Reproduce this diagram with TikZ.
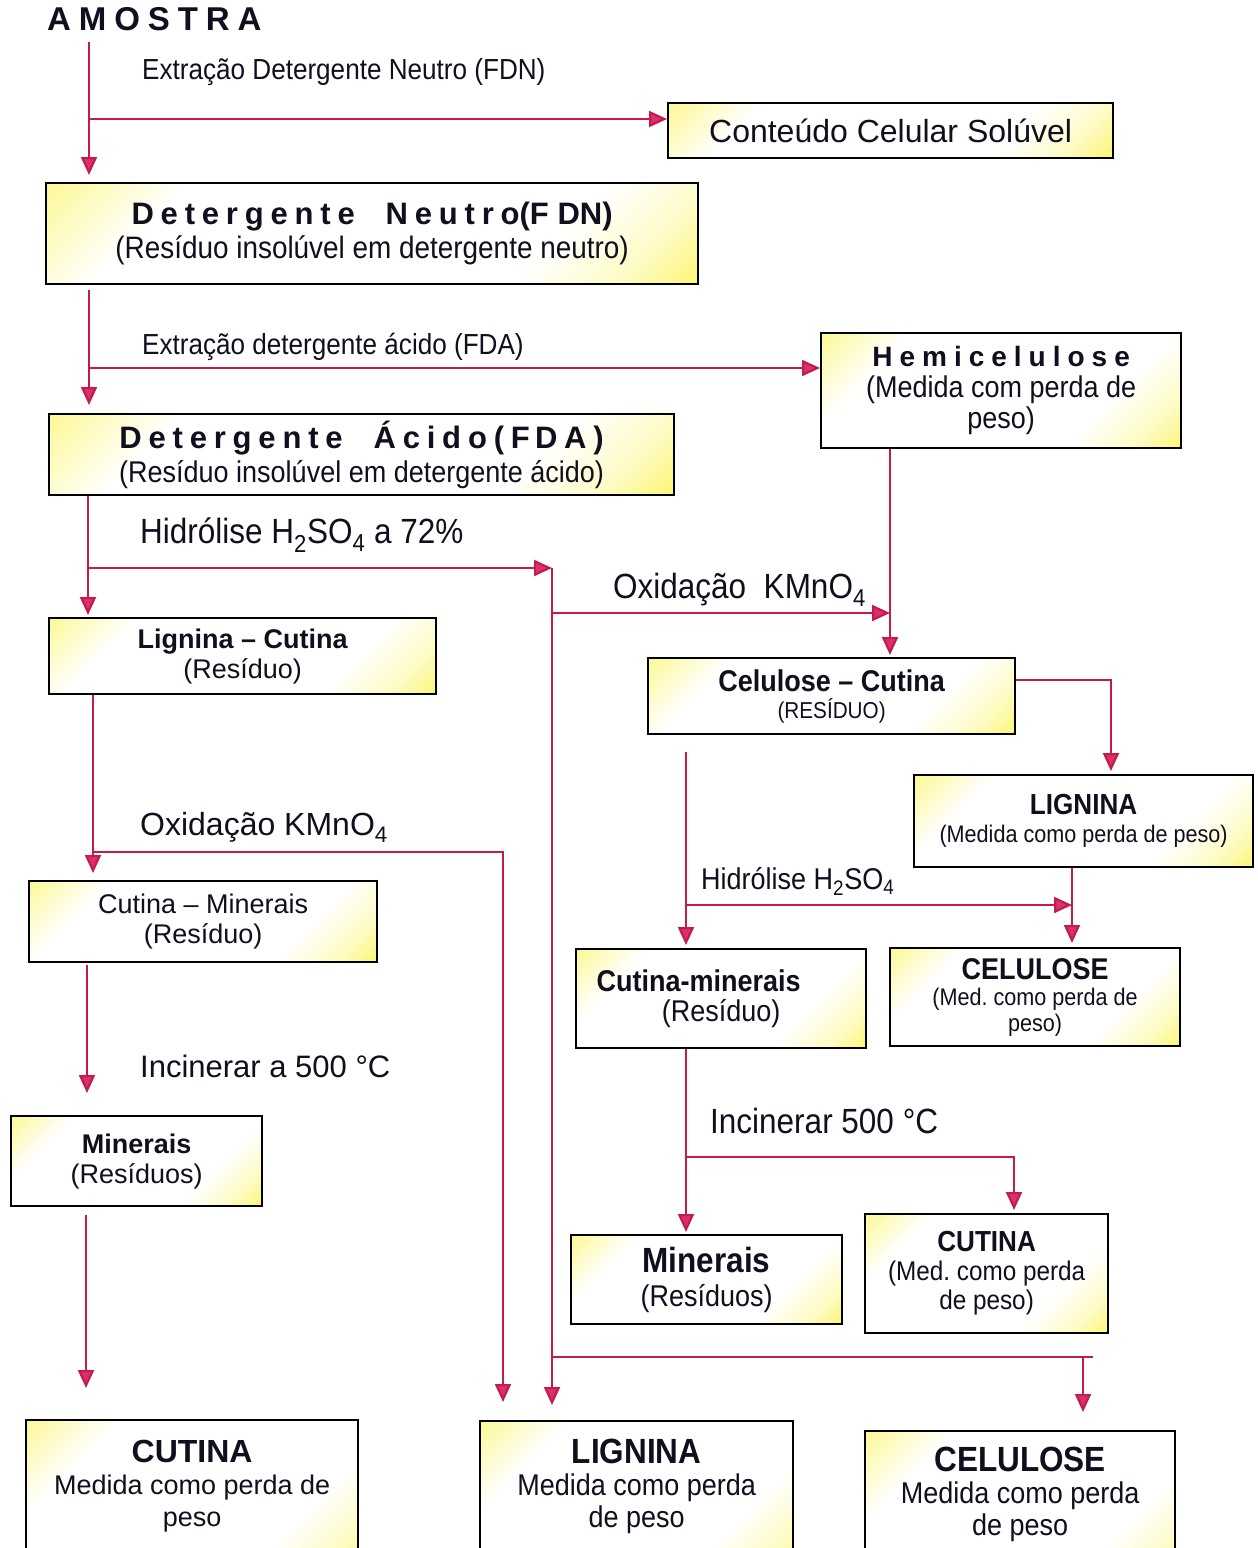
\documentclass[tikz,border=0pt]{standalone}
\usepackage{fontspec}
\setmainfont{Liberation Sans}
\newfontfamily\nar[FakeStretch=0.9]{Liberation Sans}
\usetikzlibrary{arrows.meta,calc}
\definecolor{ln}{RGB}{196,28,72}
\definecolor{ah}{RGB}{218,48,108}
\definecolor{yl}{RGB}{250,240,20}
\definecolor{tx}{RGB}{15,15,30}
\pgfdeclareverticalshading{ybox}{100bp}{color(0bp)=(yl); color(10bp)=(yl!80!white); color(22bp)=(yl!25!white); color(32bp)=(white); color(72bp)=(white); color(84bp)=(yl!40!white); color(100bp)=(yl)}
\newcommand\fz[2]{\fontsize{#1pt}{#2pt}\selectfont}
\newcommand\lsp[1]{\addfontfeatures{LetterSpace=#1}}
\tikzset{
 box/.style={draw=black, line width=2.2pt, shade, shading=ybox, shading angle=45, align=center, inner sep=0pt, text=tx, anchor=north west},
 conn/.style={draw=ln, line width=2.2pt},
 arr/.style={conn, -{Triangle[length=18pt,width=16pt,fill=ah]}},
 lab/.style={anchor=west, inner sep=0pt, text=tx},
}
\frenchspacing
\begin{document}
\begin{tikzpicture}[x=1pt,y=-1pt]
\useasboundingbox (0,0) rectangle (1258,1548);
% ---------- labels ----------
\node[lab, font={\fz{33}{38}\bfseries\lsp{24}}] (amostra) at (47,19) {AMOSTRA};
\node[lab, font={\nar\fz{29}{33}}] (l1) at (142,72) {Extração Detergente Neutro (FDN)};
\node[lab, font={\nar\fz{29}{33}}] (l2) at (142,347) {Extração detergente ácido (FDA)};
\node[lab, font={\nar\fz{35}{40}}] (l3) at (140,535) {Hidrólise H\textsubscript{2}SO\textsubscript{4} a 72\%};
\node[lab, font={\nar\fz{35}{40}}] (l4) at (613,590) {Oxidação\ \ KMnO\textsubscript{4}};
\node[lab, font={\fz{32}{36}}] (l5) at (140,827) {Oxidação KMnO\textsubscript{4}};
\node[lab, font={\nar\fz{30}{34}}] (l6) at (701,881) {Hidrólise H\textsubscript{2}SO\textsubscript{4}};
\node[lab, font={\fz{31}{35}}] (l7) at (140,1066) {Incinerar a 500 °C};
\node[lab, font={\nar\fz{35}{40}}] (l8) at (710,1121) {Incinerar 500 °C};
% ---------- boxes ----------
\node[box, minimum width=445pt, minimum height=55pt, font=\fz{32}{36}] (ccs) at (667,102) {Conteúdo Celular Solúvel};
\node[box, minimum width=652pt, minimum height=101pt, font=\fz{31}{34}] (fdn) at (45,182)
 {{\bfseries\lsp{22}Detergente\ \ Neutro}{\bfseries(F DN)}\\{\nar(Resíduo insolúvel em detergente neutro)}};
\node[box, minimum width=360pt, minimum height=115pt, font=\fz{30}{31}] (hemi) at (820,332)
 {{\fz{28}{31}\bfseries\lsp{25}Hemicelulose}\\{\nar(Medida com perda de}\\{\nar peso)}};
\node[box, minimum width=625pt, minimum height=81pt, font=\fz{31}{34}] (fda) at (48,413)
 {{\bfseries\lsp{22}Detergente\ \ Ácido(F\,DA)}\\{\nar\fz{30}{34}(Resíduo insolúvel em detergente ácido)}};
\node[box, minimum width=387pt, minimum height=76pt, font=\fz{27}{30}] (lc) at (48,617)
 {{\bfseries Lignina – Cutina}\\(Resíduo)};
\node[box, minimum width=367pt, minimum height=76pt, font=\nar\fz{30}{27}] (cc) at (647,657)
 {{\bfseries Celulose – Cutina}\\{\fz{23}{27}(RESÍDUO)}};
\node[box, minimum width=339pt, minimum height=92pt, font=\nar\fz{29}{28}] (lig1) at (913,774)
 {{\bfseries LIGNINA}\\{\fz{24}{28}(Medida como perda de peso)}};
\node[box, minimum width=290pt, minimum height=99pt, font=\nar\fz{30}{30}] (cm2) at (575,948)
 {{\bfseries Cutina-minerais}\hspace*{45pt}\\(Resíduo)};
\node[box, minimum width=290pt, minimum height=98pt, font=\nar\fz{24}{26}] (cel1) at (889,947)
 {{\fz{30}{26}\bfseries CELULOSE}\\(Med. como perda de\\peso)};
\node[box, minimum width=271pt, minimum height=89pt, font=\nar\fz{30}{34}] (min2) at (570,1234)
 {{\fz{35}{34}\bfseries Minerais}\\(Resíduos)};
\node[box, minimum width=243pt, minimum height=119pt, font=\nar\fz{27}{29}] (cut2) at (864,1213)
 {{\fz{29}{29}\bfseries CUTINA}\\(Med. como perda\\de peso)};
\node[box, minimum width=348pt, minimum height=81pt, font=\fz{27}{30}] (cm1) at (28,880)
 {Cutina – Minerais\\(Resíduo)};
\node[box, minimum width=251pt, minimum height=90pt, font=\fz{27}{30}] (min1) at (10,1115)
 {{\bfseries Minerais}\\(Resíduos)};
\node[box, minimum width=332pt, minimum height=160pt, font=\fz{27}{32}] (cutF) at (25,1419)
 {{\fz{32}{32}\bfseries CUTINA}\\Medida como perda de\\peso\\[2pt]\mbox{}};
\node[box, minimum width=313pt, minimum height=160pt, font=\nar\fz{30}{32}] (ligF) at (479,1420)
 {{\fz{35}{32}\bfseries LIGNINA}\\Medida como perda\\de peso\\[4pt]\mbox{}};
\node[box, minimum width=310pt, minimum height=160pt, font=\nar\fz{30}{32}] (celF) at (864,1430)
 {{\fz{35}{32}\bfseries CELULOSE}\\Medida como perda\\de peso\\[7pt]\mbox{}};
% ---------- coordinates ----------
\coordinate (s1) at (89,42);   \coordinate (j1) at (89,119);
\coordinate (s2) at (89,290);  \coordinate (j2) at (89,368);
\coordinate (j3) at (88,568);  \coordinate (k3) at (552,568);
\coordinate (j4) at (552,613); \coordinate (hx) at (890,0);
\coordinate (j6) at (1111,680);
\coordinate (x7) at (1072,0);
\coordinate (s8) at (686,752); \coordinate (j8) at (686,905);
\coordinate (j9) at (686,1157); \coordinate (k9) at (1014,1157);
\coordinate (j10) at (552,1357); \coordinate (k10) at (1083,1357); \coordinate (e10) at (1093,1357);
\coordinate (x11) at (93,0); \coordinate (j11) at (93,852); \coordinate (k11) at (503,852);
\coordinate (s12) at (87,965);
\coordinate (s13) at (86,1215);
% ---------- connectors ----------
\draw[conn] (s1) -- (j1);
\draw[arr] (j1) -- (j1 -| ccs.west);
\draw[arr] (j1) -- ($(j1 |- fdn.north)+(0,-7)$);
\draw[conn] (s2) -- (j2);
\draw[arr] (j2) -- (j2 -| hemi.west);
\draw[arr] (j2) -- ($(j2 |- fda.north)+(0,-8)$);
\draw[conn] (fda.south -| j3) -- (j3);
\draw[arr] (j3) -- ($(j3 |- lc.north)+(0,-2)$);
\draw[arr] (j3) -- (k3);
\draw[arr] (k3) -- ($(k3 |- ligF.north)+(0,-15)$);
\draw[arr] (j4) -- (j4 -| hx);
\draw[arr] (hemi.south -| hx) -- ($(cc.north -| hx)+(0,-2)$);
\draw[arr] (j6 -| cc.east) -- (j6) -- ($(j6 |- lig1.north)+(0,-3)$);
\draw[arr] (lig1.south -| x7) -- ($(cel1.north -| x7)+(0,-4)$);
\draw[conn] (s8) -- (j8);
\draw[arr] (j8) -- (j8 -| x7);
\draw[arr] (j8) -- ($(j8 |- cm2.north)+(0,-3)$);
\draw[conn] (cm2.south -| j9) -- (j9);
\draw[arr] (j9) -- ($(j9 |- min2.north)+(0,-2)$);
\draw[arr] (j9) -- (k9) -- ($(k9 |- cut2.north)+(0,-3)$);
\draw[conn] (j10) -- (e10);
\draw[arr] (k10) -- ($(k10 |- celF.north)+(0,-18)$);
\draw[conn] (lc.south -| x11) -- (j11);
\draw[arr] (j11) -- ($(j11 |- cm1.north)+(0,-7)$);
\draw[arr] (j11) -- (k11) -- ($(k11 |- ligF.north)+(0,-18)$);
\draw[arr] (s12) -- ($(s12 |- min1.north)+(0,-22)$);
\draw[arr] (s13) -- ($(s13 |- cutF.north)+(0,-31)$);
\end{tikzpicture}
\end{document}
